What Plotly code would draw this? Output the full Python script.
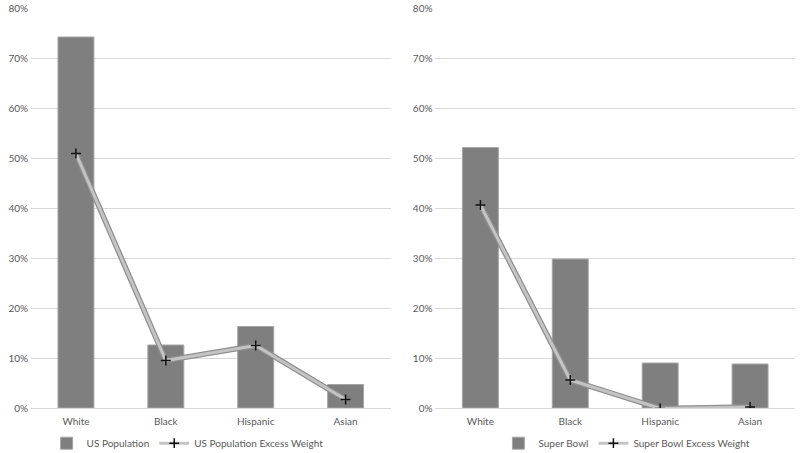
import plotly.graph_objects as go

categories = ["White", "Black", "Hispanic", "Asian"]

us_population = [0.742, 0.126, 0.163, 0.047]
us_excess_weight = [0.509, 0.095, 0.125, 0.017]

super_bowl = [0.521, 0.298, 0.090, 0.088]
super_bowl_excess_weight = [0.406, 0.056, -0.001, 0.002]

y_ticks = [0, 0.1, 0.2, 0.3, 0.4, 0.5, 0.6, 0.7, 0.8]

TEXT = "#595959"
GRID = "#d9d9d9"
BAR = "#7f7f7f"
FONT = "Lato, Carlito, sans-serif"

fig = go.Figure()


def add_panel(bars, line, bar_name, line_name, xref, yref, legend):
    fig.add_trace(go.Bar(
        x=categories, y=bars, name=bar_name, width=0.4,
        marker=dict(color=BAR, line=dict(color="#a6a6a6", width=1)),
        xaxis=xref, yaxis=yref, legend=legend,
    ))
    # darker under-stroke gives the line its soft edge
    fig.add_trace(go.Scatter(
        x=categories, y=line, mode="lines",
        line=dict(color="#8f8f8f", width=5.5),
        showlegend=False, hoverinfo="skip",
        xaxis=xref, yaxis=yref, legend=legend,
    ))
    fig.add_trace(go.Scatter(
        x=categories, y=line, mode="lines+markers", name=line_name,
        line=dict(color="#c4c4c4", width=3),
        marker=dict(symbol="cross-thin", size=7, color="#111111",
                    line=dict(color="#111111", width=1.5)),
        xaxis=xref, yaxis=yref, legend=legend,
    ))


add_panel(us_population, us_excess_weight, "US Population",
          "US Population Excess Weight", "x", "y", "legend")
add_panel(super_bowl, super_bowl_excess_weight, "Super Bowl",
          "Super Bowl Excess Weight", "x2", "y2", "legend2")

axis_x = dict(showgrid=False, showline=False, ticks="", automargin=False,
              ticklabelstandoff=6,
              tickfont=dict(color=TEXT, size=10), categoryorder="array",
              categoryarray=categories)
axis_y = dict(range=[0, 0.8], tickvals=y_ticks, tickformat=".0%",
              gridcolor=GRID, gridwidth=1, zeroline=True, zerolinecolor=GRID,
              zerolinewidth=1, showline=False, ticks="", automargin=False,
              ticklabelstandoff=2,
              tickfont=dict(color=TEXT, size=10))

legend_style = dict(orientation="h", xanchor="center", yanchor="middle",
                    y=-0.088, font=dict(color=TEXT, size=10),
                    bgcolor="rgba(0,0,0,0)", itemwidth=30)

fig.update_layout(
    width=800, height=453,
    margin=dict(l=31, r=5, t=8, b=45, autoexpand=False),
    paper_bgcolor="white", plot_bgcolor="white",
    font=dict(family=FONT, color=TEXT, size=10),
    barmode="overlay",
    xaxis=dict(domain=[0, 0.4706], **axis_x),
    yaxis=dict(anchor="x", **axis_y),
    xaxis2=dict(domain=[0.5294, 1.0], anchor="y2", **axis_x),
    yaxis2=dict(anchor="x2", **axis_y),
    legend=dict(x=0.205, **legend_style),
    legend2=dict(x=0.78, **legend_style),
)

# page's default body margin would shift the figure by 8px
fig.write_html("out.html", config={"displayModeBar": False},
               post_script="document.body.style.margin = '0';")
